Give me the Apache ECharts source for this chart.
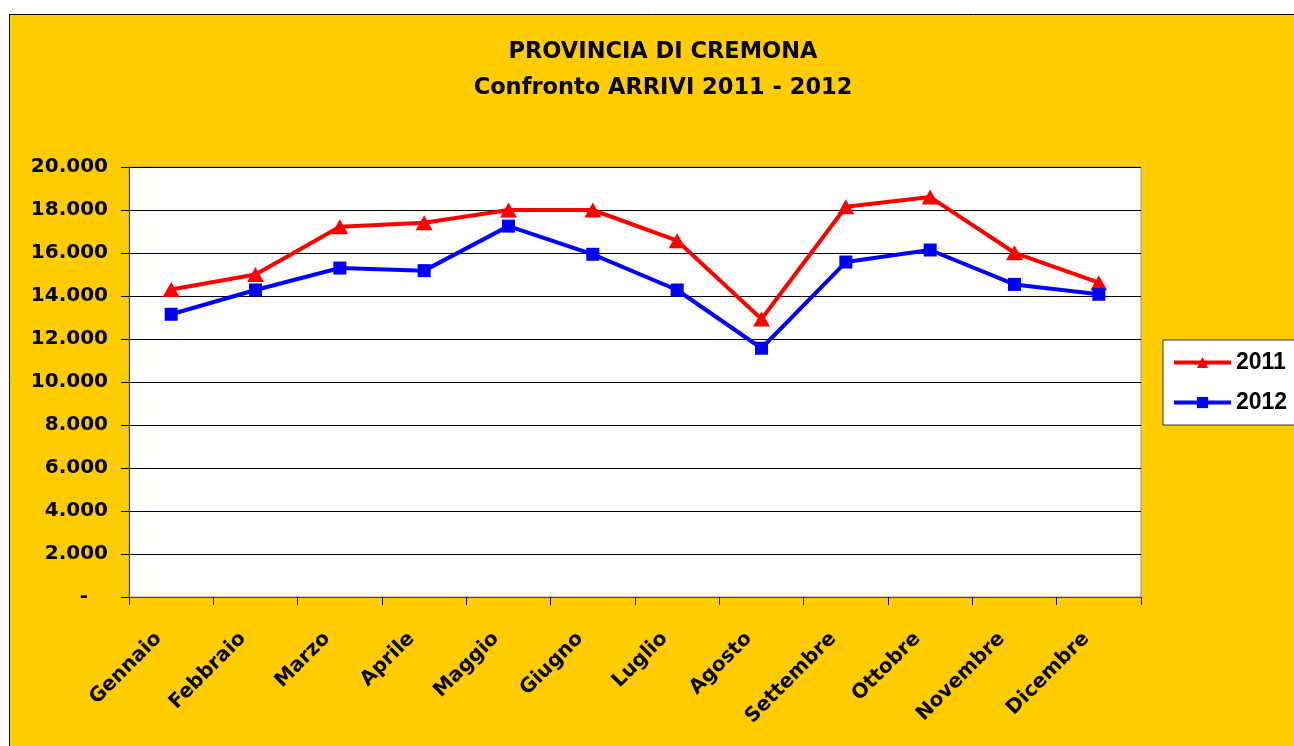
<!DOCTYPE html>
<html>
<head>
<meta charset="utf-8">
<script src="https://cdn.jsdelivr.net/npm/echarts@6/dist/echarts.min.js"></script>
<style>html,body{margin:0;padding:0;background:#fff;}#c{width:1294px;height:746px;}</style>
</head>
<body>
<div id="c"></div>
<script>
const months = ['Gennaio','Febbraio','Marzo','Aprile','Maggio','Giugno','Luglio','Agosto','Settembre','Ottobre','Novembre','Dicembre'];
const arrivi2011 = [14300, 15000, 17220, 17410, 18000, 18000, 16570, 12930, 18150, 18600, 16010, 14620];
const arrivi2012 = [13150, 14280, 15300, 15180, 17250, 15940, 14280, 11570, 15580, 16140, 14540, 14080];
const yTicks = {min: 0, max: 20000, interval: 2000};

function fmt(v){
  if (v === 0) return '{d|-}';
  return String(v).replace(/\B(?=(\d{3})+(?!\d))/g, '.');
}

const chart = echarts.init(document.getElementById('c'), null, {renderer: 'canvas'});
chart.setOption({
  backgroundColor: '#ffffff',
  animation: false,
  graphic: [{
    type: 'rect', z: -10, silent: true,
    shape: {x: 9.5, y: 14.5, width: 1400, height: 800},
    style: {fill: '#FFCC00', stroke: '#000', lineWidth: 1}
  }],
  title: {
    text: 'PROVINCIA DI CREMONA\nConfronto ARRIVI 2011 - 2012',
    left: 658, top: 29, textAlign: 'center',
    textStyle: {fontFamily: 'DejaVu Sans', fontWeight: 'bold', fontSize: 22.5, lineHeight: 36, color: '#000'}
  },
  legend: {
    orient: 'vertical', left: 1163, top: 340,
    padding: [11, 80, 11, 9],
    backgroundColor: '#fff', borderColor: '#333', borderWidth: 1,
    itemWidth: 57, itemHeight: 14, itemGap: 17,
    lineStyle: {width: 4},
    textStyle: {fontFamily: 'Liberation Sans, Arial', fontWeight: 'bold', fontSize: 23, color: '#000'},
    data: ['2011', '2012']
  },
  grid: {left: 129, top: 167, right: 153, bottom: 149, show: true, borderColor: '#999', borderWidth: 1, backgroundColor: '#fff'},
  xAxis: {
    type: 'category', data: months, boundaryGap: true,
    axisLine: {lineStyle: {color: '#444', width: 1}},
    axisTick: {show: true, length: 8, lineStyle: {color: '#000'}},
    axisLabel: {rotate: 45, margin: 26, padding: [0, 18, 0, 0], interval: 0, color: '#000', fontFamily: 'DejaVu Sans', fontWeight: 'bold', fontSize: 20}
  },
  yAxis: {
    type: 'value', min: yTicks.min, max: yTicks.max, interval: yTicks.interval,
    axisLine: {show: true, lineStyle: {color: '#444'}},
    axisTick: {show: true, length: 8, lineStyle: {color: '#000'}},
    splitLine: {show: true, lineStyle: {color: '#000', width: 1}},
    axisLabel: {
      margin: 21, color: '#000', fontFamily: 'DejaVu Sans', fontWeight: 'bold', fontSize: 20,
      formatter: fmt,
      rich: {d: {fontFamily: 'DejaVu Sans', fontWeight: 'bold', fontSize: 20, color: '#000', padding: [0, 20, 0, 0]}}
    }
  },
  series: [
    {name: '2011', type: 'line', data: arrivi2011, symbol: 'triangle', symbolSize: [17, 15],
     lineStyle: {color: '#FF0000', width: 4}, itemStyle: {color: '#FF0000'}},
    {name: '2012', type: 'line', data: arrivi2012, symbol: 'rect', symbolSize: 13,
     lineStyle: {color: '#0000FF', width: 4}, itemStyle: {color: '#0000FF'}}
  ]
});
</script>
</body>
</html>
